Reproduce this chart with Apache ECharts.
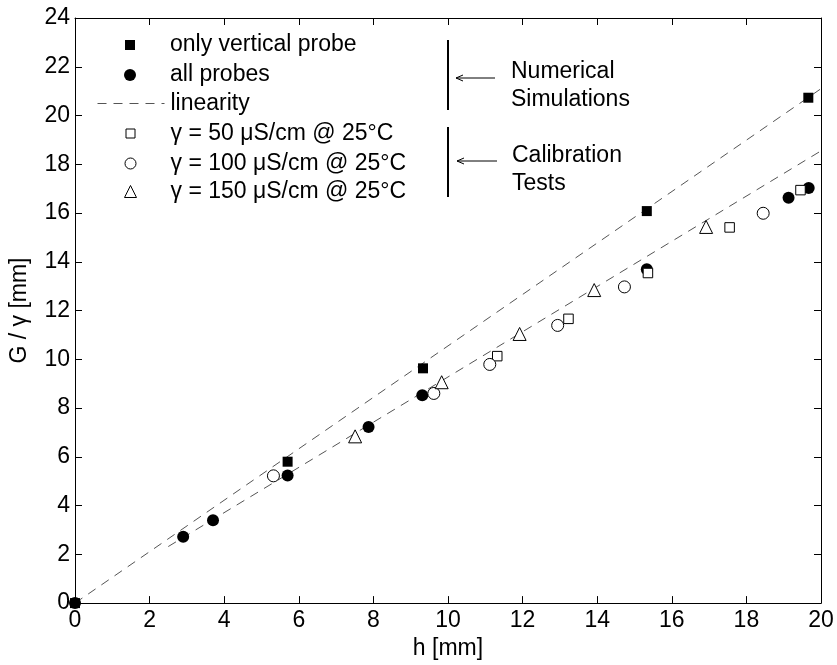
<!DOCTYPE html>
<html>
<head>
<meta charset="utf-8">
<script src="https://cdn.jsdelivr.net/npm/echarts@6/dist/echarts.min.js"></script>
<style>html,body{margin:0;padding:0;background:#fff;}#c{width:837px;height:665px;}</style>
</head>
<body>
<div id="c"></div>
<script>
// ---- data ----
var onlyVertical = [[0,0],[5.70,5.80],[9.33,9.63],[15.33,16.08],[19.66,20.73]];
var allProbes = [[0,0],[2.90,2.72],[3.70,3.40],[5.70,5.23],[7.87,7.22],[9.31,8.53],[15.33,13.69],[19.13,16.63],[19.67,17.03]];
var gamma50 = [[11.32,10.13],[13.23,11.66],[15.36,13.54],[17.55,15.41],[19.45,16.94]];
var gamma100 = [[5.32,5.22],[9.62,8.60],[11.12,9.79],[12.94,11.39],[14.73,12.97],[18.45,15.99]];
var gamma150 = [[7.51,6.84],[9.83,9.06],[11.92,11.04],[13.92,12.84],[16.92,15.43]];
var linearityUpper = [[0,0],[20,21.1]];
var linearityLower = [[2.5,2.32],[20,18.55]];
var xTicks = [0,2,4,6,8,10,12,14,16,18,20];
var yTicks = [0,2,4,6,8,10,12,14,16,18,20,22,24];
var names = ['only vertical probe','all probes','linearity','γ = 50 μS/cm @ 25°C','γ = 100 μS/cm @ 25°C','γ = 150 μS/cm @ 25°C'];

var FONT = 'Liberation Sans';
var chart = echarts.init(document.getElementById('c'));
var axisCommon = {
  axisLine: {show: true, onZero: false, lineStyle: {color: '#000', width: 1}},
  axisTick: {show: true, inside: true, length: 7, lineStyle: {color: '#000'}},
  splitLine: {show: false}
};
// symbol legend: icon centred at x=130, text starting at x=170
function legendSym(name, center, size, open) {
  var l = {
    data: [name], left: 130 - size / 2, top: center - 12, padding: 0,
    itemWidth: size, itemHeight: size, selectedMode: false,
    textStyle: {fontFamily: FONT, fontSize: 23, color: '#000', lineHeight: 24,
      padding: [0, 0, 0, 35 - size / 2]}
  };
  if (open) l.itemStyle = {color: '#fff', borderColor: '#000', borderWidth: 1};
  return l;
}
var rows = [45, 75, 103.5, 133.5, 163.5, 191.5];
var option = {
  animation: false,
  backgroundColor: '#fff',
  grid: {left: 75, right: 16, top: 18, bottom: 57},
  xAxis: [
    Object.assign({type: 'value', min: 0, max: 20, interval: 2, position: 'bottom',
      name: 'h [mm]', nameLocation: 'middle', nameGap: 32,
      nameTextStyle: {fontFamily: FONT, fontSize: 23, color: '#000'},
      axisLabel: {fontFamily: FONT, fontSize: 23, color: '#000', margin: 6,
        formatter: function(v){ return xTicks.indexOf(v) >= 0 ? String(v) : ''; }}
    }, axisCommon),
    Object.assign({type: 'value', min: 0, max: 20, interval: 2, position: 'top',
      axisLabel: {show: false}}, axisCommon)
  ],
  yAxis: [
    Object.assign({type: 'value', min: 0, max: 24, interval: 2, position: 'left',
      name: 'G / γ [mm]', nameLocation: 'middle', nameGap: 44,
      nameTextStyle: {fontFamily: FONT, fontSize: 23, color: '#000'},
      axisLabel: {fontFamily: FONT, fontSize: 23, color: '#000', margin: 5,
        formatter: function(v){ return yTicks.indexOf(v) >= 0 ? String(v) : ''; }}
    }, axisCommon),
    Object.assign({type: 'value', min: 0, max: 24, interval: 2, position: 'right',
      axisLabel: {show: false}}, axisCommon)
  ],
  legend: [
    legendSym(names[0], rows[0], 10),
    legendSym(names[1], rows[1], 12),
    {
      data: [names[2]], left: 97, top: rows[2] - 12, padding: 0,
      itemWidth: 67, itemHeight: 10, selectedMode: false,
      itemStyle: {color: 'rgba(0,0,0,0)', borderWidth: 0, opacity: 0},
      lineStyle: {color: '#555', width: 1, type: [9, 7]},
      textStyle: {fontFamily: FONT, fontSize: 23, color: '#000', lineHeight: 24, padding: [0,0,0,1]}
    },
    legendSym(names[3], rows[3], 9, true),
    legendSym(names[4], rows[4], 11, true),
    legendSym(names[5], rows[5], 12, true)
  ],
  series: [
    {name: names[2], type: 'line', data: linearityUpper, symbol: 'none', z: 1,
      lineStyle: {color: '#555', width: 1, type: [9, 7]}, itemStyle: {color: '#555'}},
    {name: names[2], type: 'line', data: linearityLower, symbol: 'none', z: 1,
      lineStyle: {color: '#555', width: 1, type: [9, 7]}, itemStyle: {color: '#555'}},
    {name: names[0], type: 'scatter', data: onlyVertical, symbol: 'rect', symbolSize: 10, z: 3,
      itemStyle: {color: '#000', opacity: 1}},
    {name: names[1], type: 'scatter', data: allProbes, symbol: 'circle', symbolSize: 12, z: 3,
      itemStyle: {color: '#000', opacity: 1}},
    {name: names[3], type: 'scatter', data: gamma50, symbol: 'rect', symbolSize: 9.5, z: 4,
      itemStyle: {color: '#fff', borderColor: '#000', borderWidth: 1, opacity: 1}},
    {name: names[4], type: 'scatter', data: gamma100, symbol: 'circle', symbolSize: 12, z: 4,
      itemStyle: {color: '#fff', borderColor: '#000', borderWidth: 1, opacity: 1}},
    {name: names[5], type: 'scatter', data: gamma150, symbol: 'triangle', symbolSize: 13, z: 4,
      itemStyle: {color: '#fff', borderColor: '#000', borderWidth: 1, opacity: 1}}
  ],
  graphic: [
    {type: 'line', shape: {x1: 448, y1: 40, x2: 448, y2: 110}, style: {stroke: '#000', lineWidth: 2}},
    {type: 'line', shape: {x1: 448, y1: 127, x2: 448, y2: 197}, style: {stroke: '#000', lineWidth: 2}},
    {type: 'line', shape: {x1: 456, y1: 78, x2: 495, y2: 78}, style: {stroke: '#000', lineWidth: 1}},
    {type: 'polyline', shape: {points: [[463, 75], [456, 78], [463, 81]]}, style: {stroke: '#000', lineWidth: 1, fill: null}},
    {type: 'line', shape: {x1: 457, y1: 161, x2: 497, y2: 161}, style: {stroke: '#000', lineWidth: 1}},
    {type: 'polyline', shape: {points: [[464, 158], [457, 161], [464, 164]]}, style: {stroke: '#000', lineWidth: 1, fill: null}},
    {type: 'text', left: 511, top: 58, style: {text: 'Numerical\nSimulations', font: '23px "Liberation Sans"', fill: '#000', lineHeight: 28}},
    {type: 'text', left: 512, top: 142, style: {text: 'Calibration\nTests', font: '23px "Liberation Sans"', fill: '#000', lineHeight: 28}}
  ]
};
chart.setOption(option);
</script>
</body>
</html>
